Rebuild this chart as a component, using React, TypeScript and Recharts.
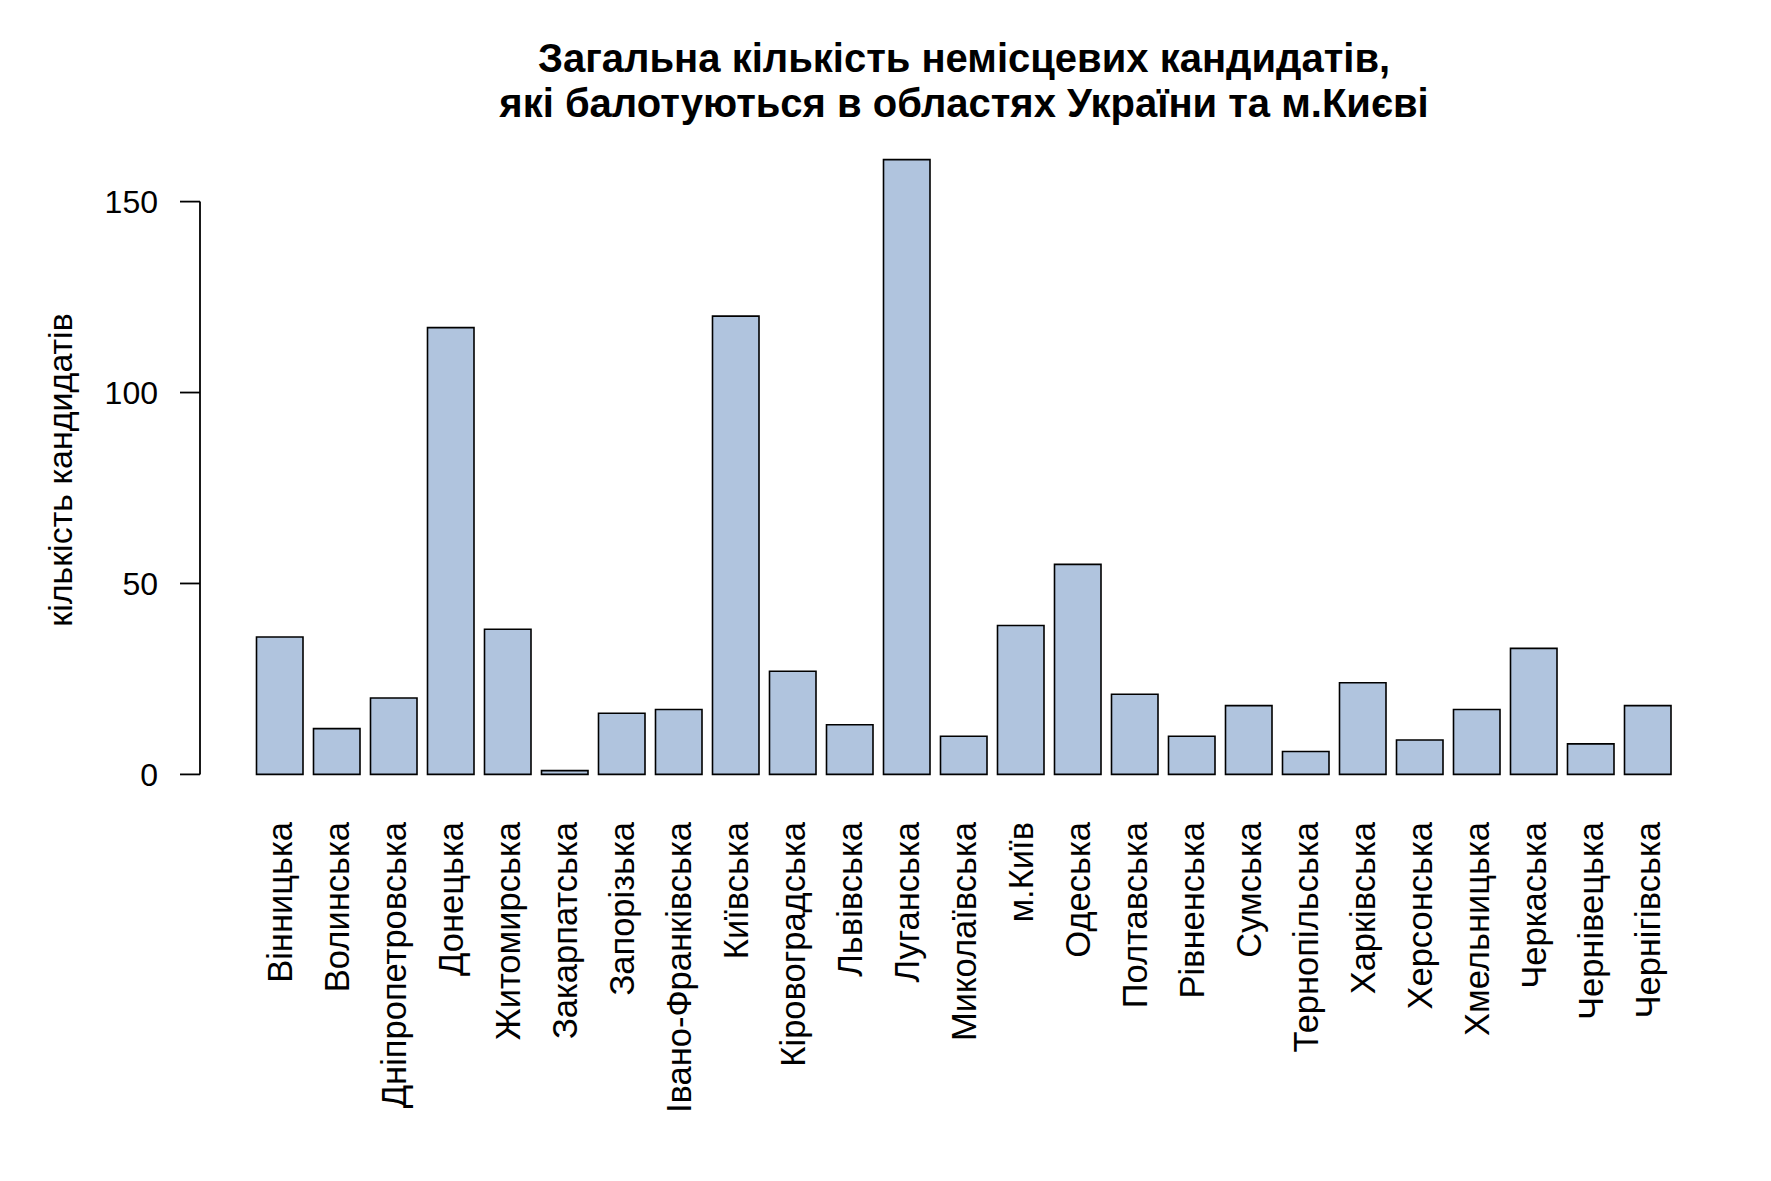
import { Bar, BarChart, ReferenceLine, XAxis, YAxis } from "recharts";

const regions = [
  "Вінницька",
  "Волинська",
  "Дніпропетровська",
  "Донецька",
  "Житомирська",
  "Закарпатська",
  "Запорізька",
  "Івано-Франківська",
  "Київська",
  "Кіровоградська",
  "Львівська",
  "Луганська",
  "Миколаївська",
  "м.Київ",
  "Одеська",
  "Полтавська",
  "Рівненська",
  "Сумська",
  "Тернопільська",
  "Харківська",
  "Херсонська",
  "Хмельницька",
  "Черкаська",
  "Чернівецька",
  "Чернігівська",
];

const candidates = [
  36, 12, 20, 117, 38, 1, 16, 17, 120, 27, 13, 161, 10, 39, 55, 21, 10, 18, 6,
  24, 9, 17, 33, 8, 18,
];

const yTicks = [0, 50, 100, 150];

const titleLines = [
  "Загальна кількість немісцевих кандидатів,",
  "які балотуються в областях України та м.Києві",
];
const yLabel = "кількість кандидатів";

const font = "'Liberation Sans', Arial, Helvetica, sans-serif";
const width = 1771;
const height = 1181;
const yAxisWidth = 80;
const xAxisHeight = 30;
const margins = { top: 135, right: 43, bottom: 352, left: 120 };

// R-style ylim: 0..max widened by 4% on both ends
const yMax = Math.max(...candidates);
const yDomain = [-0.04 * yMax, yMax * 1.04];

const data = regions.map((name, i) => ({ name, value: candidates[i] }));

function RegionTick(props: any) {
  const { x, y, payload } = props;
  return (
    <text
      transform={`translate(${x},${y}) rotate(-90)`}
      textAnchor="end"
      dy="0.36em"
      fontSize={34.5}
      fontFamily={font}
      fill="#000"
    >
      {payload.value}
    </text>
  );
}

export default function App() {
  const plotLeft = margins.left + yAxisWidth;
  const plotBottom = height - margins.bottom - xAxisHeight;
  const plotCenter = plotLeft + (width - plotLeft - margins.right) / 2;
  const plotMiddle = margins.top + (plotBottom - margins.top) / 2;

  return (
    <div
      style={{
        position: "absolute",
        left: 0,
        top: 0,
        width,
        height,
        background: "#fff",
      }}
    >
      <BarChart width={width} height={height} data={data} margin={margins}>
        <XAxis
          dataKey="name"
          type="category"
          interval={0}
          height={xAxisHeight}
          padding={{ left: 51.5, right: 51.5 }}
          axisLine={false}
          tickLine={false}
          tickSize={0}
          tickMargin={23}
          tick={<RegionTick />}
        />
        <XAxis xAxisId="frame" type="number" domain={[0, 1]} hide />
        <YAxis
          type="number"
          domain={yDomain}
          ticks={yTicks}
          allowDataOverflow
          width={yAxisWidth}
          axisLine={false}
          tickSize={20}
          tickMargin={22}
          tickLine={{ stroke: "#000", strokeWidth: 1.8 }}
          tick={{ fontSize: 32, fontFamily: font, fill: "#000" }}
        />
        <ReferenceLine
          xAxisId="frame"
          segment={[
            { x: 0, y: 0 },
            { x: 0, y: 150 },
          ]}
          stroke="#000"
          strokeWidth={1.8}
        />
        <Bar
          dataKey="value"
          barSize={46.5}
          fill="#B0C4DE"
          stroke="#000"
          strokeWidth={1.6}
          isAnimationActive={false}
        />
      </BarChart>
      <svg
        width={width}
        height={height}
        style={{ position: "absolute", left: 0, top: 0, pointerEvents: "none" }}
      >
        {titleLines.map((line, i) => (
          <text
            key={line}
            x={plotCenter}
            y={72 + i * 45}
            textAnchor="middle"
            fontSize={40}
            fontWeight="bold"
            fontFamily={font}
            fill="#000"
          >
            {line}
          </text>
        ))}
        <text
          transform={`translate(72,${plotMiddle + 3}) rotate(-90)`}
          textAnchor="middle"
          fontSize={34}
          fontFamily={font}
          fill="#000"
        >
          {yLabel}
        </text>
      </svg>
    </div>
  );
}
